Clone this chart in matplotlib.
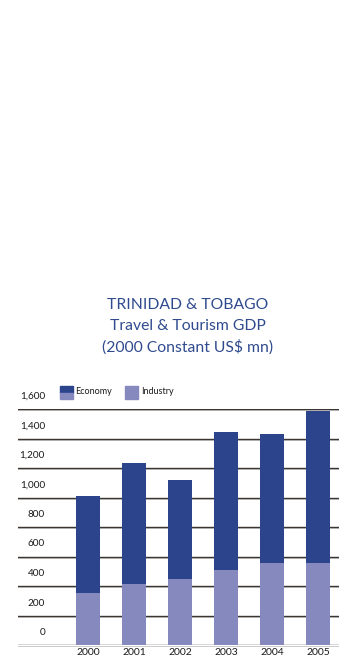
import matplotlib

matplotlib.use("Agg")

import matplotlib.pyplot as plt
from matplotlib.transforms import offset_copy

years = ["2000", "2001", "2002", "2003", "2004", "2005"]
economy = [1010, 1235, 1120, 1445, 1430, 1585]
industry = [352, 414, 447, 508, 556, 556]
yticks = [0, 200, 400, 600, 800, 1000, 1200, 1400, 1600]

DARK = "#2b448c"
LIGHT = "#8589bd"
TITLE = "#2f4a8e"
W, H = 339, 658

plt.rcParams["font.family"] = ["Lato", "DejaVu Sans"]

fig = plt.figure(figsize=(W / 100, H / 100), dpi=100)
fig.patch.set_facecolor("white")

ax = fig.add_axes([18 / W, 1 - 645 / H, 321 / W, (645 - 409) / H])
ax.set_facecolor("none")
x = list(range(len(years)))

# gridlines first (dark line with a soft grey shadow), bars on top
shadow_tr = offset_copy(ax.get_yaxis_transform(), fig=fig, y=-1.0, units="points")
for v in yticks:
    ax.axhline(v, color="#3b3632", lw=1.0, zorder=1)
    ax.plot([0, 1], [v, v], color="#c4c2c2", lw=0.6, zorder=0.9,
            transform=shadow_tr, clip_on=False)

ax.bar(x, economy, width=0.52, color=DARK, zorder=2)
ax.bar(x, industry, width=0.52, color=LIGHT, zorder=3)

ax.set_xlim(-70 / 46, 251 / 46)
ax.set_ylim(0, 1600)
for s in ax.spines.values():
    s.set_visible(False)
ax.set_yticks([])
ax.set_xticks(x, years, fontsize=7.5, color="#1a1a1a")
ax.tick_params(axis="x", length=0, pad=2.5)

lab_tr = offset_copy(ax.get_yaxis_transform(), fig=fig, y=9, units="points")
for v in yticks:
    ax.text(27 / 321, v, f"{v:,}", transform=lab_tr, ha="right", va="center",
            fontsize=7.2, color="#1a1a1a")

fig.text(188 / W, 1 - 305 / H, "TRINIDAD & TOBAGO", ha="center", va="center",
         fontsize=11.3, color=TITLE)
fig.text(188 / W, 1 - 326 / H, "Travel & Tourism GDP", ha="center", va="center",
         fontsize=11.3, color=TITLE)
fig.text(188 / W, 1 - 347 / H, "(2000 Constant US$ mn)", ha="center", va="center",
         fontsize=11.3, color=TITLE)

# legend swatches
fig.patches.append(plt.Rectangle((60 / W, 1 - 393 / H), 13 / W, 7 / H,
                                 transform=fig.transFigure, color=DARK))
fig.patches.append(plt.Rectangle((60 / W, 1 - 399 / H), 13 / W, 6 / H,
                                 transform=fig.transFigure, color=LIGHT))
fig.patches.append(plt.Rectangle((125 / W, 1 - 399 / H), 13 / W, 13 / H,
                                 transform=fig.transFigure, color=LIGHT))
fig.text(75 / W, 1 - 392 / H, "Economy", ha="left", va="center", fontsize=6.5, color="#1a1a1a")
fig.text(141 / W, 1 - 392 / H, "Industry", ha="left", va="center", fontsize=6.5, color="#1a1a1a")

fig.savefig("out.png", dpi=100, facecolor="white")
plt.close(fig)
